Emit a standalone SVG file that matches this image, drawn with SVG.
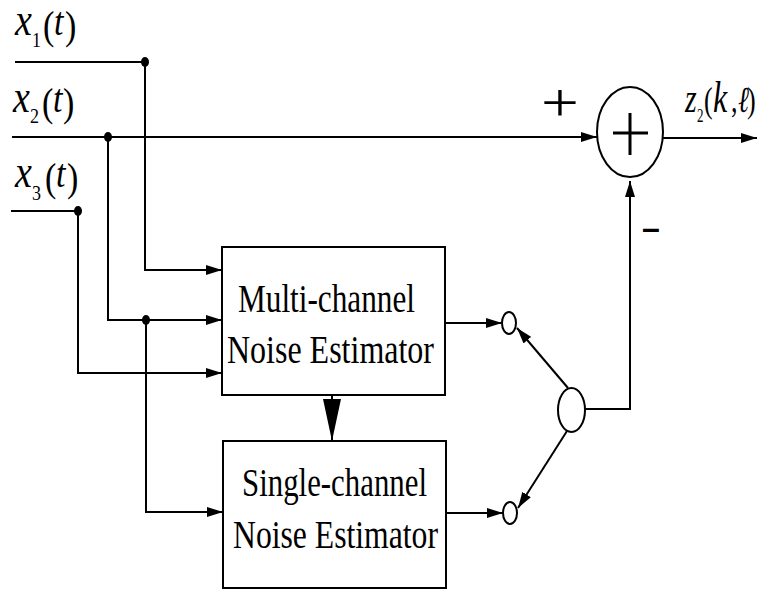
<svg xmlns="http://www.w3.org/2000/svg" width="758" height="591" viewBox="0 0 758 591">
<defs>
<marker id="ah" markerUnits="userSpaceOnUse" markerWidth="16" markerHeight="10" refX="16" refY="5" orient="auto">
<path d="M0,0 L16,5 L0,10 Z" fill="#000"/>
</marker>
<marker id="big" markerUnits="userSpaceOnUse" markerWidth="42" markerHeight="18" refX="42" refY="9" orient="auto">
<path d="M0,0 L42,9 L0,18 Z" fill="#000"/>
</marker>
</defs>
<style>
.ln{stroke:#000;stroke-width:2;fill:none}
.box{fill:#fff;stroke:#000;stroke-width:2}
.lbl{font-family:'Liberation Serif','Times New Roman',serif;fill:#000}
.it{font-style:italic}
.dot{fill:#000}
.node{fill:#fff;stroke:#000;stroke-width:2}
</style>
<rect width="758" height="591" fill="#fff"/>

<g id="connectors">
<polyline class="ln" points="15,62 145,62 145,270 222,270" marker-end="url(#ah)"/>
<line class="ln" x1="12" y1="137" x2="597" y2="137" marker-end="url(#ah)"/>
<polyline class="ln" points="108,137 108,320 222,320" marker-end="url(#ah)"/>
<polyline class="ln" points="11,211 78,211 78,373 222,373" marker-end="url(#ah)"/>
<polyline class="ln" points="146,320 146,512 223,512" marker-end="url(#ah)"/>
<ellipse class="dot" cx="145" cy="62" rx="4" ry="5"/>
<ellipse class="dot" cx="108" cy="137" rx="4" ry="5"/>
<ellipse class="dot" cx="78" cy="211" rx="4" ry="5"/>
<ellipse class="dot" cx="146" cy="320" rx="4" ry="5"/>
<line class="ln" x1="332" y1="395" x2="332" y2="441" marker-end="url(#big)"/>
<line class="ln" x1="445" y1="323" x2="502" y2="323" marker-end="url(#ah)"/>
<line class="ln" x1="446" y1="513" x2="503" y2="513" marker-end="url(#ah)"/>
<line class="ln" x1="568" y1="388" x2="517" y2="328" marker-end="url(#ah)"/>
<line class="ln" x1="567" y1="431" x2="518" y2="508" marker-end="url(#ah)"/>
<polyline class="ln" points="585,409 630,409 630,181" marker-end="url(#ah)"/>
<line class="ln" x1="663" y1="138" x2="757" y2="138" marker-end="url(#ah)"/>
</g>

<g id="mc">
<rect class="box" x="222" y="247" width="223" height="148"/>
<text class="lbl" font-size="32.5" transform="translate(238,312) scale(1,1.22)" textLength="177" lengthAdjust="spacingAndGlyphs">Multi-channel</text>
<text class="lbl" font-size="32.5" transform="translate(227,363) scale(1,1.22)" textLength="207" lengthAdjust="spacingAndGlyphs">Noise Estimator</text>
</g>

<g id="sc">
<rect class="box" x="223" y="441" width="223" height="147"/>
<text class="lbl" font-size="32.5" transform="translate(242,496) scale(1,1.22)" textLength="185" lengthAdjust="spacingAndGlyphs">Single-channel</text>
<text class="lbl" font-size="32.5" transform="translate(233,548) scale(1,1.22)" textLength="205" lengthAdjust="spacingAndGlyphs">Noise Estimator</text>
</g>

<g id="sum">
<ellipse class="node" cx="630" cy="132" rx="33" ry="45"/>
<line x1="613" y1="133" x2="648" y2="133" stroke="#000" stroke-width="3"/>
<line x1="630" y1="113" x2="630" y2="155" stroke="#000" stroke-width="3"/>
</g>

<g id="sw1"><ellipse class="node" cx="509" cy="323" rx="7" ry="11"/></g>
<g id="sw2"><ellipse class="node" cx="510" cy="513" rx="7" ry="11"/></g>
<g id="sel"><ellipse class="node" cx="571.5" cy="410" rx="13.5" ry="22"/></g>

<g id="plus">
<text class="lbl" font-size="56" text-anchor="middle" transform="translate(560,121) scale(1.2,0.99)">+</text>
</g>
<g id="minus">
<text font-family="Liberation Sans, Arial, sans-serif" font-weight="bold" font-size="32" transform="translate(642,239)">–</text>
</g>

<g id="in1">
<text class="lbl" font-size="34" transform="translate(15,35) scale(1,1.2)"><tspan class="it" x="0" y="0" font-size="38">x</tspan><tspan x="17" y="10" font-size="18">1</tspan><tspan x="28" y="3">(</tspan><tspan class="it" x="39" y="0">t</tspan><tspan x="50" y="3">)</tspan></text>
</g>
<g id="in2">
<text class="lbl" font-size="34" transform="translate(13,112) scale(1,1.2)"><tspan class="it" x="0" y="0" font-size="38">x</tspan><tspan x="17" y="9.5" font-size="18">2</tspan><tspan x="29" y="3.4">(</tspan><tspan class="it" x="40" y="0">t</tspan><tspan x="50" y="3.4">)</tspan></text>
</g>
<g id="in3">
<text class="lbl" font-size="34" transform="translate(15,187) scale(1,1.2)"><tspan class="it" x="0" y="0" font-size="38">x</tspan><tspan x="17" y="11" font-size="18">3</tspan><tspan x="30" y="3.4">(</tspan><tspan class="it" x="41" y="0">t</tspan><tspan x="52" y="3.4">)</tspan></text>
</g>
<g id="out">
<text class="lbl" font-size="26" transform="translate(685,112) scale(1,1.4)"><tspan class="it" x="0" y="0" font-size="30">z</tspan><tspan x="12" y="7" font-size="13">2</tspan><tspan x="19" y="0">(</tspan><tspan class="it" x="28" y="0" font-size="32">k</tspan><tspan x="46" y="0">,</tspan><tspan class="it" x="53" y="0">ℓ</tspan><tspan x="62" y="0">)</tspan></text>
</g>
</svg>
